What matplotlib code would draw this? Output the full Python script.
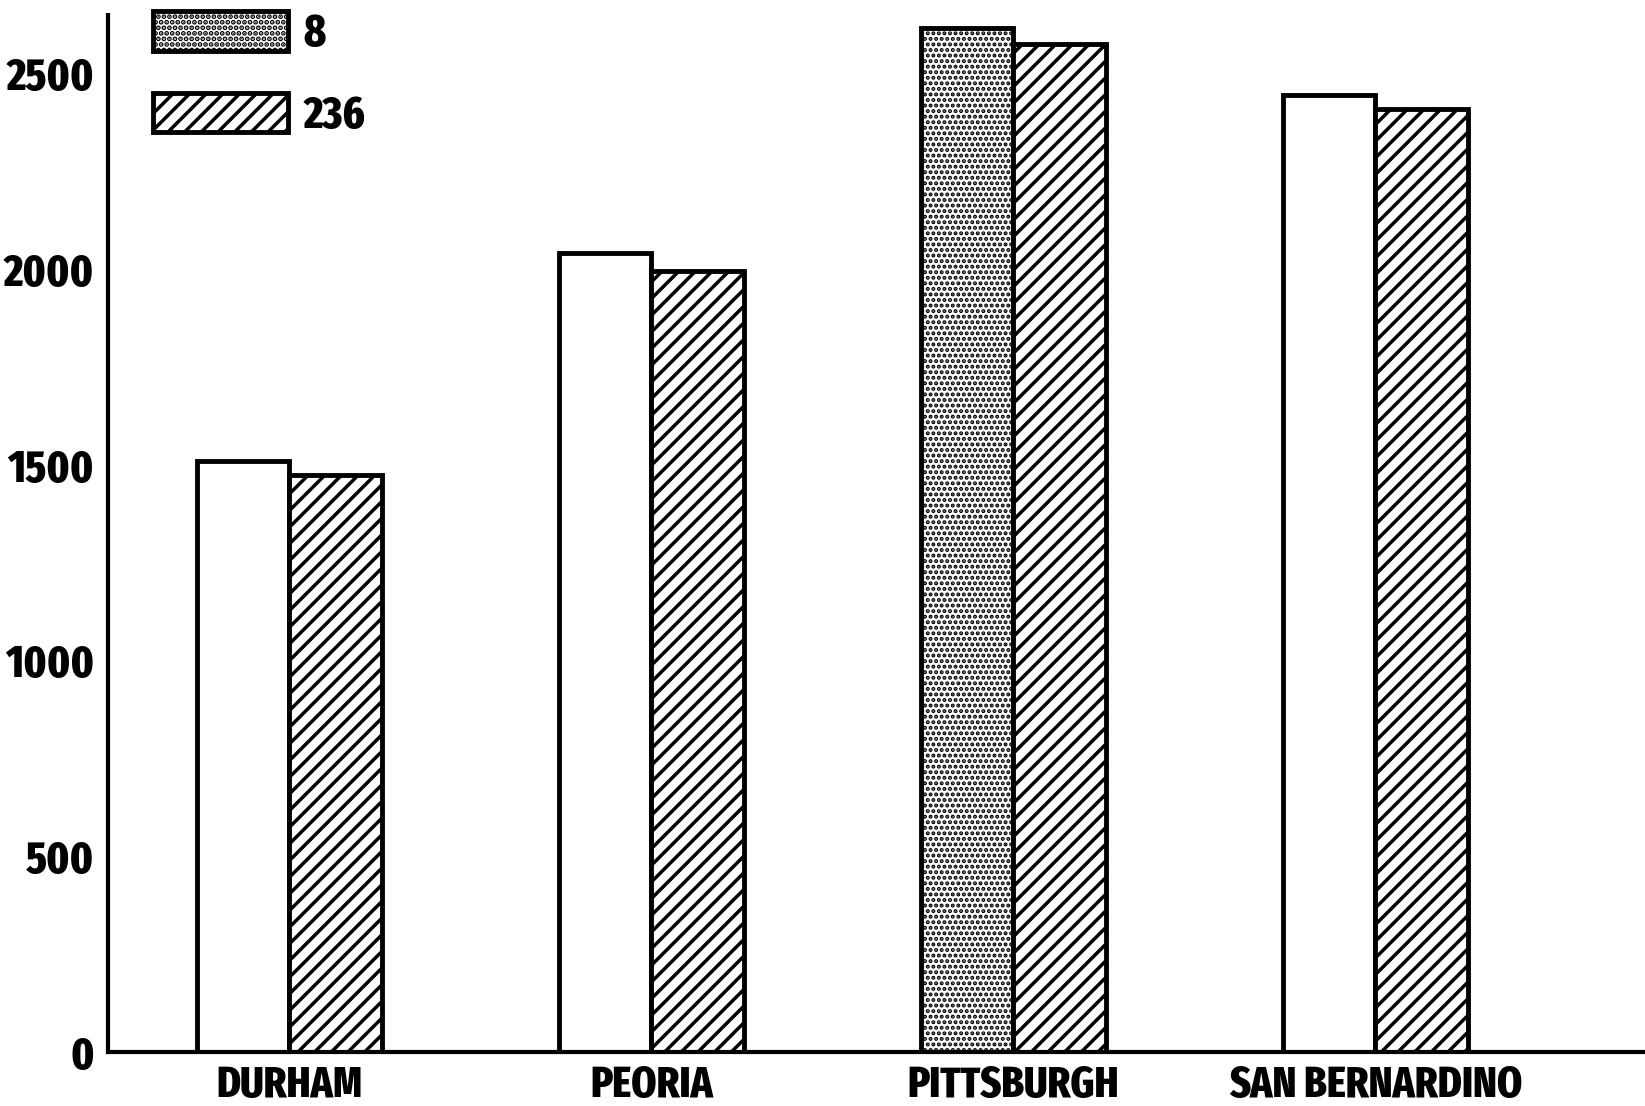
import matplotlib
matplotlib.use("Agg")
import numpy as np
import matplotlib.pyplot as plt
from matplotlib.patches import Patch

# ---------------------------------------------------------------------------
# Data
# ---------------------------------------------------------------------------
cities = ["DURHAM", "PEORIA", "PITTSBURGH", "SAN BERNARDINO"]
series_names = ["8", "236"]
vals_8 = [1510, 2040, 2615, 2445]
vals_236 = [1475, 1995, 2575, 2410]
# the scan lost the stipple on most "8" bars, only Pittsburgh kept it
stippled_8 = [False, False, True, False]
yticks = [0, 500, 1000, 1500, 2000, 2500]

plt.rcParams["font.family"] = ["Fira Sans Extra Condensed", "DejaVu Sans"]
plt.rcParams["font.weight"] = 800
plt.rcParams["hatch.linewidth"] = 2.5

W, H, DPI = 1645, 1106, 100
fig = plt.figure(figsize=(W / DPI, H / DPI), dpi=DPI)
ax = fig.add_axes([108 / W, 1 - 1052 / H, (W - 108) / W, (1052 - 15) / H])

DOT_LW = 2.0


def set_hlw(p, lw):
    if hasattr(p, "set_hatch_linewidth"):
        p.set_hatch_linewidth(lw)


x = np.arange(len(cities))
w = 0.255
EDGE = 3.5

bars8 = ax.bar(x - w / 2, vals_8, w, facecolor="white", edgecolor="black", linewidth=EDGE)
for b, s in zip(bars8, stippled_8):
    if s:
        b.set_hatch("...")
        set_hlw(b, DOT_LW)

bars236 = ax.bar(x + w / 2, vals_236, w, facecolor="white", edgecolor="black",
                 linewidth=EDGE, hatch="//")

ax.set_xlim(-0.501, 3.745)
ax.set_ylim(0, 2649)

for side in ["top", "right"]:
    ax.spines[side].set_visible(False)
for side in ["left", "bottom"]:
    ax.spines[side].set_linewidth(3.0)

ax.set_yticks(yticks)
ax.set_yticklabels([str(v) for v in yticks], fontsize=32.5, fontweight=800)
ax.set_xticks(x)
ax.set_xticklabels(cities, fontsize=31.5, fontweight=800)
ax.tick_params(axis="y", length=0, pad=10)
ax.tick_params(axis="x", length=0, pad=9)

# legend
h8 = Patch(facecolor="white", edgecolor="black", hatch="...", linewidth=EDGE)
set_hlw(h8, DOT_LW)
h236 = Patch(facecolor="white", edgecolor="black", hatch="//", linewidth=EDGE)
fs = 32.5
ax.legend([h8, h236], series_names, loc="upper left",
          bbox_to_anchor=(153 / W, 1 - 11 / H), bbox_transform=fig.transFigure,
          frameon=False, prop={"weight": 800, "size": fs},
          handlelength=2.98, handleheight=0.97, handletextpad=0.35,
          labelspacing=0.8, borderpad=0, borderaxespad=0)

fig.savefig("out.png", dpi=DPI)
print("Saved out.png")
